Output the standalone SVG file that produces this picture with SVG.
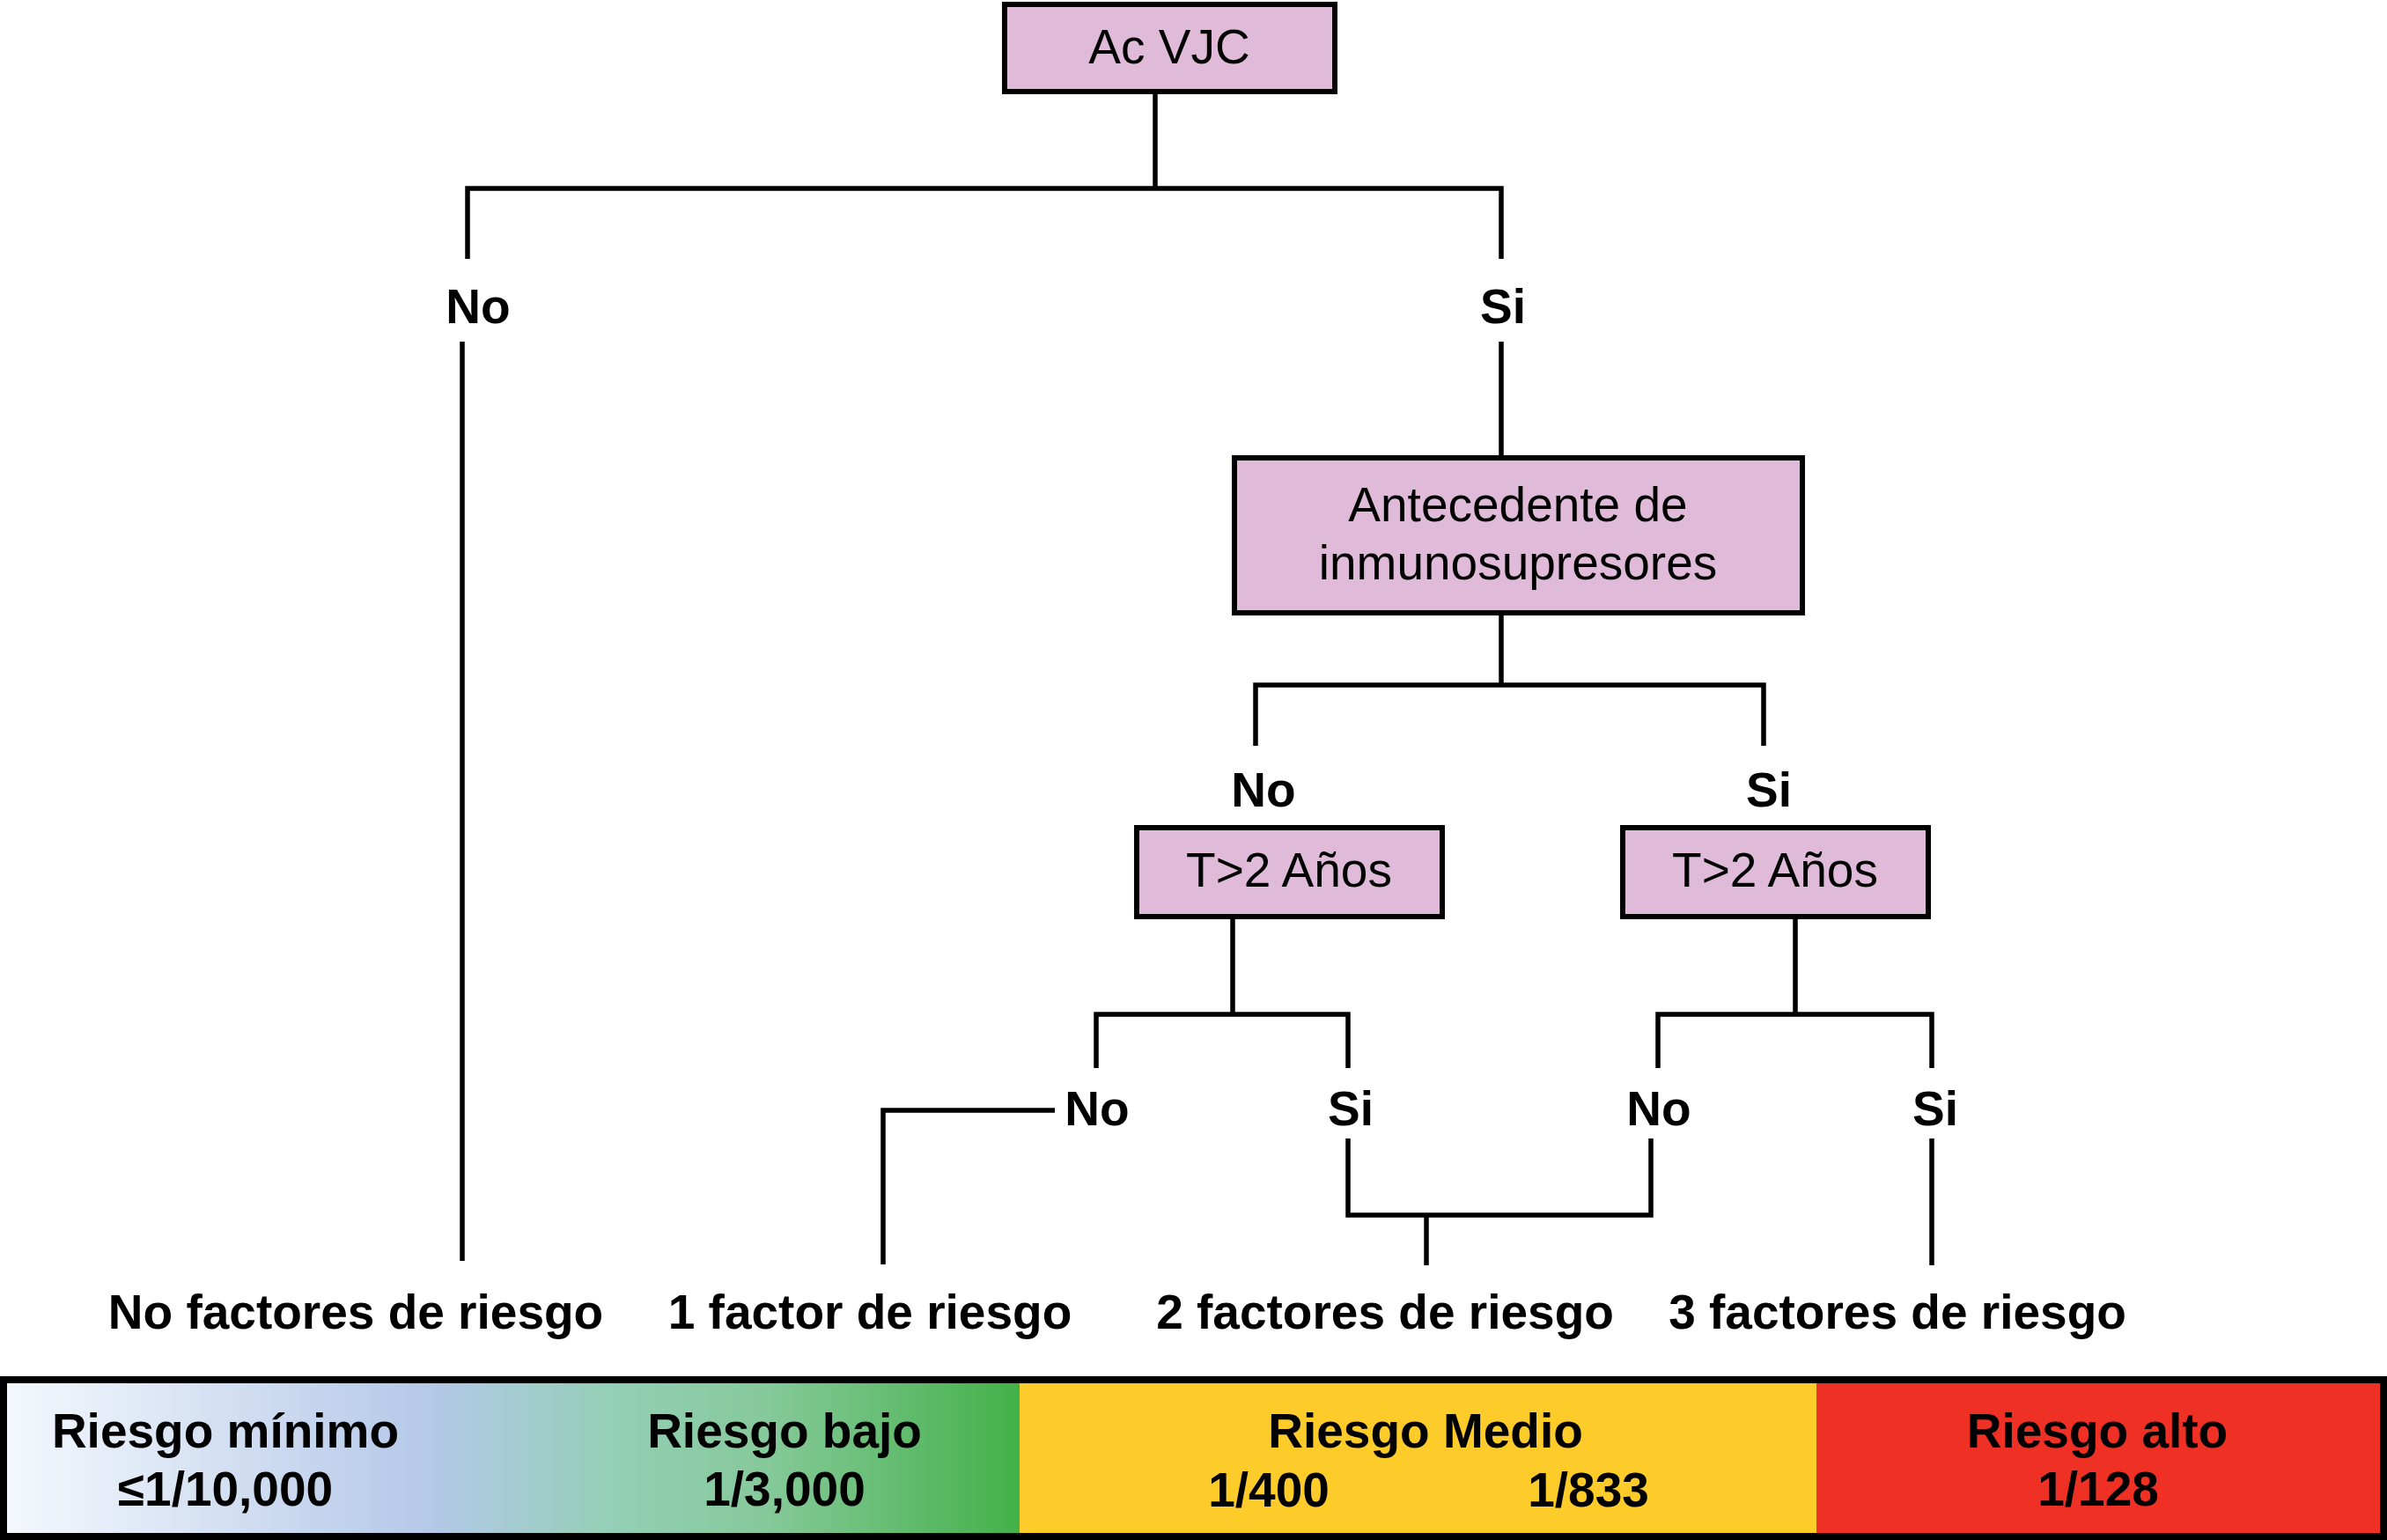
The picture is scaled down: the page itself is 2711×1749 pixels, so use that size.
<svg xmlns="http://www.w3.org/2000/svg" width="2711" height="1749" viewBox="0 0 2711 1749">
<style>
  .box { fill: #dfbbd9; stroke: #000; stroke-width: 6; }
  .bt { font-family: "Liberation Sans", Arial, sans-serif; font-size: 55px; fill: #000; text-anchor: middle; }
  .lb { font-family: "Liberation Sans", Arial, sans-serif; font-size: 55px; font-weight: bold; fill: #000; text-anchor: middle; }
  .conn { fill: none; stroke: #000; stroke-width: 5.5; stroke-linejoin: miter; }
</style>
<defs>
  <linearGradient id="gLow" x1="8" y1="0" x2="1158" y2="0" gradientUnits="userSpaceOnUse">
    <stop offset="0" stop-color="#f4f8fd"/>
    <stop offset="0.42" stop-color="#b4c8e8"/>
    <stop offset="0.6" stop-color="#93cfb6"/>
    <stop offset="0.75" stop-color="#86c99a"/>
    <stop offset="1" stop-color="#43b149"/>
  </linearGradient>
</defs>
<rect width="2711" height="1749" fill="#fff"/>

<g id="connectors">
  <path class="conn" d="M1312,107 V214"/>
  <path class="conn" d="M531,294 V214 H1705 V294"/>
  <path class="conn" d="M525,388 V1432"/>
  <path class="conn" d="M1705,388 V517"/>
  <path class="conn" d="M1705,698 V778"/>
  <path class="conn" d="M1426,847 V778 H2003 V847"/>
  <path class="conn" d="M1400,1044 V1152"/>
  <path class="conn" d="M1245,1213 V1152 H1531 V1213"/>
  <path class="conn" d="M2039,1044 V1152"/>
  <path class="conn" d="M1883,1213 V1152 H2194 V1213"/>
  <path class="conn" d="M1198,1261 H1003 V1436"/>
  <path class="conn" d="M1531,1293 V1380 H1875 V1293"/>
  <path class="conn" d="M1620,1380 V1437"/>
  <path class="conn" d="M2194,1293 V1437"/>
</g>

<g id="node-acvjc">
  <rect class="box" x="1141" y="5" width="375" height="99"/>
  <text class="bt" x="1328" y="72">Ac VJC</text>
</g>
<g id="node-antecedente">
  <rect class="box" x="1402" y="520" width="645" height="176"/>
  <text class="bt" x="1724" y="592">Antecedente de</text>
  <text class="bt" x="1724" y="658">inmunosupresores</text>
</g>
<g id="node-t2-left">
  <rect class="box" x="1291" y="940" width="347" height="101"/>
  <text class="bt" x="1464" y="1007">T&gt;2 Años</text>
</g>
<g id="node-t2-right">
  <rect class="box" x="1843" y="940" width="347" height="101"/>
  <text class="bt" x="2016" y="1007">T&gt;2 Años</text>
</g>

<g id="labels">
  <text class="lb" x="543" y="367">No</text>
  <text class="lb" x="1707" y="367">Si</text>
  <text class="lb" x="1435" y="916">No</text>
  <text class="lb" x="2009" y="916">Si</text>
  <text class="lb" x="1246" y="1278">No</text>
  <text class="lb" x="1534" y="1278">Si</text>
  <text class="lb" x="1884" y="1278">No</text>
  <text class="lb" x="2198" y="1278">Si</text>
</g>

<g id="outcomes">
  <text class="lb" x="404" y="1509">No factores de riesgo</text>
  <text class="lb" x="988" y="1509">1 factor de riesgo</text>
  <text class="lb" x="1573" y="1509">2 factores de riesgo</text>
  <text class="lb" x="2155" y="1509">3 factores de riesgo</text>
</g>

<g id="risk-bar">
  <rect x="8" y="1571" width="1150" height="170" fill="url(#gLow)"/>
  <rect x="1158" y="1571" width="905" height="170" fill="#fdcb2a"/>
  <rect x="2063" y="1571" width="640" height="170" fill="#ee3124"/>
  <rect x="4" y="1567" width="2703" height="178" fill="none" stroke="#000" stroke-width="8"/>
  <text class="lb" x="256" y="1644">Riesgo mínimo</text>
  <text class="lb" x="256" y="1710">≤1/10,000</text>
  <text class="lb" x="891" y="1644">Riesgo bajo</text>
  <text class="lb" x="891" y="1710">1/3,000</text>
  <text class="lb" x="1619" y="1644">Riesgo Medio</text>
  <text class="lb" x="1441" y="1711">1/400</text>
  <text class="lb" x="1804" y="1711">1/833</text>
  <text class="lb" x="2382" y="1644">Riesgo alto</text>
  <text class="lb" x="2383" y="1710">1/128</text>
</g>
</svg>
